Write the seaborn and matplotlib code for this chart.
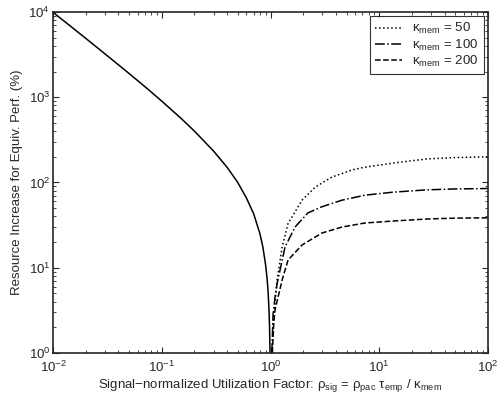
import pandas as pd
import seaborn as sns
import matplotlib
matplotlib.use('Agg')
import matplotlib.pyplot as plt
from matplotlib.ticker import LogLocator

# values
x_left = [0.01, 0.015, 0.02, 0.03, 0.05, 0.07, 0.1, 0.15, 0.2, 0.3, 0.4, 0.5, 0.6, 0.7, 0.8,
          0.85, 0.9, 0.93, 0.95, 0.97, 0.98, 0.99]
y_left = [9900, 6570, 4900, 3230, 1900, 1330, 900, 567, 400, 233, 150, 100, 66, 43, 25,
          17.6, 11, 7.5, 5.3, 3.1, 2.0, 1.0]

x_k50 = [1.03, 1.07, 1.10, 1.15, 1.28, 1.45, 1.95, 2.57, 3.68, 5.6, 7.1, 13.4, 27.5, 50, 100]
y_k50 = [1.0, 2.5, 3.8, 7.2, 17.5, 33, 62, 88, 116, 140, 150, 169, 189, 196, 200]

x_k100 = [1.03, 1.055, 1.10, 1.15, 1.36, 1.68, 2.21, 2.98, 4.54, 7.4, 13.4, 27.5, 50, 100]
y_k100 = [1.0, 2.8, 4.5, 6.5, 17.5, 30, 44, 52, 62, 71, 77, 82, 84, 85]

x_k200 = [1.04, 1.07, 1.10, 1.28, 1.45, 1.95, 2.98, 4.54, 7.4, 13.4, 27.5, 50, 100]
y_k200 = [1.0, 2.2, 3.2, 7.2, 12.3, 18.5, 25.6, 30, 33.5, 35.3, 37.3, 38.2, 38.5]

labels = [r'$\kappa_{\mathrm{mem}}$ = 50', r'$\kappa_{\mathrm{mem}}$ = 100', r'$\kappa_{\mathrm{mem}}$ = 200']

sns.set_style('ticks')
plt.rcParams['font.family'] = ['Liberation Sans', 'DejaVu Sans']
plt.rcParams['mathtext.fontset'] = 'custom'
plt.rcParams['mathtext.rm'] = 'Liberation Sans'
plt.rcParams['mathtext.it'] = 'Liberation Sans:italic'
plt.rcParams['mathtext.default'] = 'rm'
plt.rcParams['xtick.direction'] = 'in'
plt.rcParams['ytick.direction'] = 'in'

fig = plt.figure(figsize=(5, 3.98), dpi=100)
ax = fig.add_axes([0.106, 0.113, 0.87, 0.857])

left = pd.DataFrame({'x': x_left, 'y': y_left})
sns.lineplot(data=left, x='x', y='y', ax=ax, color='black', lw=1.1, sort=False)

styles = [':', '-.', '--']
for xs, ys, lab, ls in zip([x_k50, x_k100, x_k200], [y_k50, y_k100, y_k200], labels, styles):
    df = pd.DataFrame({'x': xs, 'y': ys})
    sns.lineplot(data=df, x='x', y='y', ax=ax, color='black', lw=1.1,
                 linestyle=ls, label=lab, sort=False)

ax.set_xscale('log')
ax.set_yscale('log')
ax.set_xlim(1e-2, 1e2)
ax.set_ylim(1e0, 1e4)
ax.xaxis.set_major_locator(LogLocator(base=10, numticks=10))
ax.yaxis.set_major_locator(LogLocator(base=10, numticks=10))
ax.tick_params(which='both', top=True, right=True, labelsize=9.5)
ax.tick_params(axis='x', pad=5)
ax.tick_params(axis='y', pad=2)
ax.tick_params(which='major', length=4, width=0.8)
ax.tick_params(which='minor', length=2, width=0.6)
for s in ax.spines.values():
    s.set_linewidth(1.2)

ax.set_xlabel(r'Signal$-$normalized Utilization Factor: $\rho_{\mathrm{sig}}$ = $\rho_{\mathrm{pac}}$ $\tau_{\mathrm{emp}}$ / $\kappa_{\mathrm{mem}}$',
              fontsize=9.5, labelpad=1)
ax.set_ylabel('Resource Increase for Equiv. Perf. (%)', fontsize=9.5, labelpad=4)

leg = ax.legend(loc='upper right', fontsize=9.5, frameon=True, fancybox=False,
                edgecolor='black', handlelength=2.0, borderaxespad=0.3,
                labelspacing=0.1)
leg.get_frame().set_linewidth(0.8)

fig.savefig('out.png', dpi=100)
